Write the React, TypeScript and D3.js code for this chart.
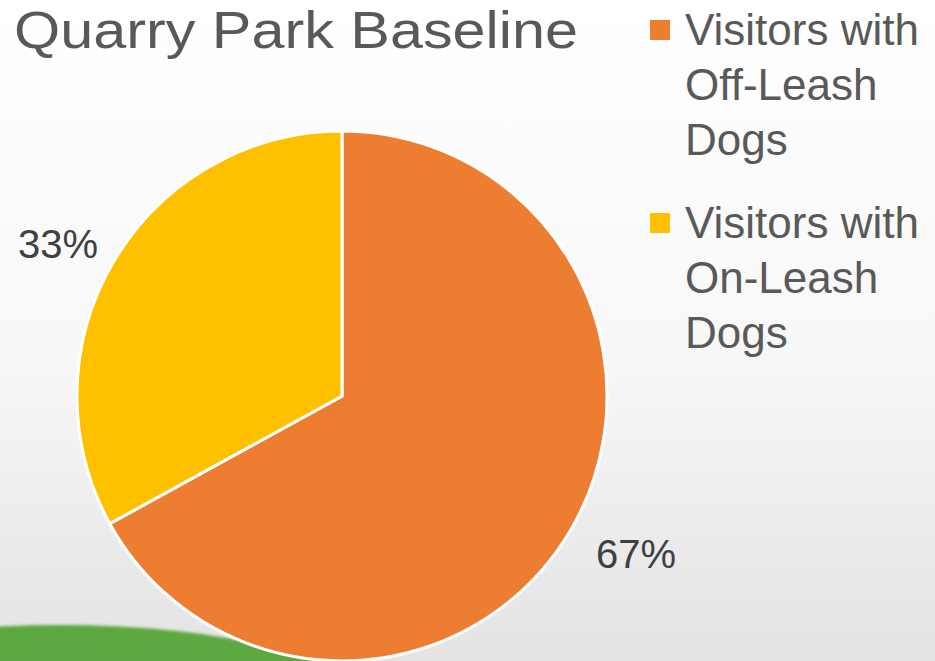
import React from 'react';
import * as d3 from 'd3';

const categories = ['Visitors with Off-Leash Dogs', 'Visitors with On-Leash Dogs'];
const legendLines = [['Visitors with', 'Off-Leash', 'Dogs'], ['Visitors with', 'On-Leash', 'Dogs']];
const values = [67, 33];
const colors = ['#ED7D31', '#FFC000'];
const title = 'Quarry Park Baseline';

const W = 935;
const H = 661;
const FONT = '"Liberation Sans", Arial, sans-serif';

const App: React.FC = () => {
  const cx = 342;
  const cy = 396;
  const r = 265;

  const pie = d3.pie<number>().sort(null).value(d => d);
  const arcs = pie(values);
  const arc = d3.arc<d3.PieArcDatum<number>>().innerRadius(0).outerRadius(r);

  // label spots
  const labelPos = [[636, 568], [58, 258]];

  return (
    <div style={{ position: 'fixed', left: 0, top: 0, width: W, height: H }}>
      <svg width={W} height={H} style={{ display: 'block' }}>
        <defs>
          <linearGradient id="bg" x1="0" y1="0" x2="0" y2="1">
            <stop offset="0" stopColor="#ffffff" />
            <stop offset="0.55" stopColor="#f7f7f7" />
            <stop offset="1" stopColor="#e3e3e3" />
          </linearGradient>
          <filter id="blur" x="-10%" y="-10%" width="120%" height="120%">
            <feGaussianBlur stdDeviation="1.5" />
          </filter>
        </defs>
        <rect width={W} height={H} fill="url(#bg)" />
        <ellipse cx={60} cy={702} rx={300} ry={77} fill="#5DA83F" filter="url(#blur)" />
        <text x={14} y={48} fontFamily={FONT} fontSize={52} fill="#595959"
          textLength={564} lengthAdjust="spacingAndGlyphs">{title}</text>
        <g transform={`translate(${cx},${cy})`}>
          {arcs.map((a, i) => (
            <path key={categories[i]} d={arc(a) || ''} fill={colors[i]} stroke="#ffffff" strokeWidth={3} />
          ))}
        </g>
        {values.map((v, i) => (
          <text key={categories[i]} x={labelPos[i][0]} y={labelPos[i][1]} textAnchor="middle"
            fontFamily={FONT} fontSize={40} fill="#404040">{v}%</text>
        ))}
        {legendLines.map((lines, i) => (
          <g key={categories[i]} transform={`translate(650,${20 + i * 193})`}>
            <rect x={0} y={0} width={20} height={20} fill={colors[i]} />
            {lines.map((t, j) => (
              <text key={t} x={35} y={25 + j * 55} fontFamily={FONT} fontSize={44} fill="#595959">{t}</text>
            ))}
          </g>
        ))}
      </svg>
    </div>
  );
};

export default App;
